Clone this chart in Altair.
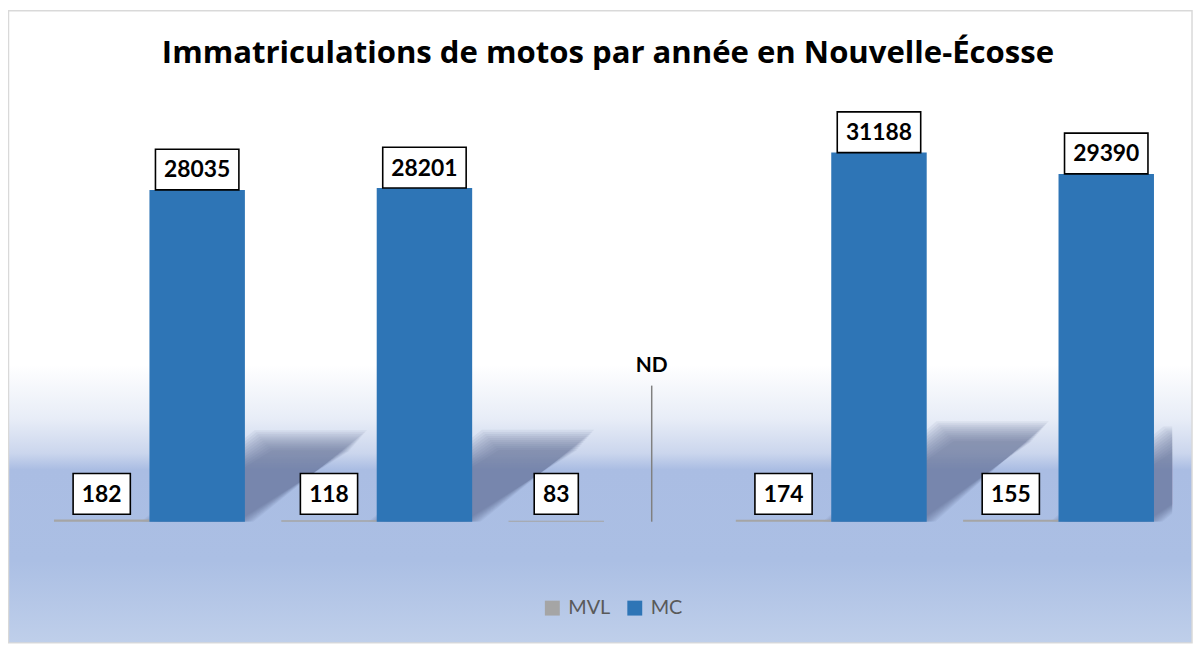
import altair as alt
import pandas as pd

years = ["2017", "2018", "2019", "2020", "2021"]
series_names = ["MVL", "MC"]
mvl_values = [182, 118, 83, 174, 155]
mc_values = [28035, 28201, None, 31188, 29390]
nd_year = "2019"
nd_series = "MC"
nd_text = "ND"
title_text = "Immatriculations de motos par année en Nouvelle-Écosse"

colors = ["#A5A5A5", "#2E75B6"]

rows = []
for i, y in enumerate(years):
    rows.append({"year": y, "idx": i, "series": "MVL", "value": mvl_values[i]})
    rows.append({"year": y, "idx": i, "series": "MC", "value": mc_values[i]})
df = pd.DataFrame(rows)
nd_df = pd.DataFrame([{"year": nd_year, "series": nd_series, "label": nd_text}])
bg_df = pd.DataFrame([{"k": 0}])

W, H = 1144, 417
YMAX = 35000
PX = YMAX / H  # data units per pixel

xband = alt.Scale(domain=years, paddingInner=0.16, paddingOuter=0.08)
xoff = alt.Scale(domain=series_names)
yscale = alt.Scale(domain=[0, YMAX], nice=False)

bg = alt.Chart(bg_df).mark_rect(
    fill=alt.Gradient(
        gradient="linear", x1=0, x2=0, y1=0, y2=1,
        stops=[
            alt.GradientStop(offset=0, color="#ffffff"),
            alt.GradientStop(offset=0.56, color="#ffffff"),
            alt.GradientStop(offset=0.645, color="#e8edf7"),
            alt.GradientStop(offset=0.70, color="#cbd6ed"),
            alt.GradientStop(offset=0.726, color="#aabde3"),
            alt.GradientStop(offset=0.87, color="#abbfe4"),
            alt.GradientStop(offset=1.0, color="#bfcfea"),
        ],
    ),
    stroke="#d9d9d9", strokeWidth=1.5,
).encode(
    x=alt.value(-27.5), x2=alt.value(W + 20), y=alt.value(-97.5), y2=alt.value(539)
)

BW, SD, SH = 0.42, 0.5, 0.245
shadow = alt.Chart(df).transform_filter(
    "datum.series == 'MC' && isValid(datum.value)"
).transform_calculate(
    k="[0,1,2,3]", s="[0,1,2,3,4,5,6,7,8,9,10]"
).transform_flatten(["k"]).transform_flatten(["s"]).transform_calculate(
    e="(datum.s - 5) * 0.0075",
    h=f"{SH} * datum.value + (datum.s - 5) * 170",
).transform_calculate(
    a="datum.idx + 0.5 - datum.e",
    w=f"{BW} + 2 * datum.e",
).transform_calculate(
    sx=f"datum.a + (datum.k == 0 ? 0 : datum.k == 1 ? datum.w : datum.k == 2 ? {SD} : datum.w + {SD})",
    lo=f"datum.k < 2 ? 0 : datum.k == 2 ? datum.h * ({SD} - datum.w) / {SD} : datum.h",
    hi=f"datum.k == 0 ? 0 : datum.k == 1 ? datum.h * datum.w / {SD} : datum.h",
).mark_area(
    orient="vertical", color="#5c6a88", fillOpacity=0.08, clip=True,
).encode(
    x=alt.X("sx:Q", scale=alt.Scale(domain=[0, 5], nice=False, zero=False), axis=None),
    y=alt.Y("lo:Q", scale=yscale, axis=None),
    y2="hi:Q",
    detail=["year:N", "s:N"],
)

bars = alt.Chart(df).mark_bar().encode(
    x=alt.X("year:N", scale=xband, title=None,
            axis=alt.Axis(labelAngle=0, domain=False, ticks=False, tickSize=0,
                          labelFont="Lato", labelFontSize=20, labelFontWeight="bold",
                          labelColor="#595959", labelPadding=41, labelBaseline="alphabetic")),
    xOffset=alt.XOffset("series:N", scale=xoff),
    y=alt.Y("value:Q", scale=yscale, axis=None),
    color=alt.Color("series:N", scale=alt.Scale(domain=series_names, range=colors),
                    legend=alt.Legend(title=None, orient="none", legendX=510, legendY=494,
                                      direction="horizontal", symbolType="square",
                                      symbolSize=225, symbolStrokeWidth=0,
                                      labelFont="Lato", labelFontSize=20, labelColor="#595959",
                                      labelOffset=6, columnPadding=14)),
)

rule = alt.Chart(nd_df).transform_calculate(
    y0="0", y1=f"{137 * PX}"
).mark_rule(color="#808080", strokeWidth=1.5).encode(
    x=alt.X("year:N", scale=xband, axis=None),
    xOffset=alt.XOffset("series:N", scale=xoff),
    y=alt.Y("y0:Q", scale=yscale, axis=None),
    y2="y1:Q",
)

nd_label = alt.Chart(nd_df).transform_calculate(
    ty=f"{157 * PX}"
).mark_text(font="Lato", fontSize=21, fontWeight="bold", color="#000000", baseline="middle").encode(
    x=alt.X("year:N", scale=xband, axis=None),
    xOffset=alt.XOffset("series:N", scale=xoff),
    y=alt.Y("ty:Q", scale=yscale, axis=None),
    text="label:N",
)

labeled = alt.Chart(df).transform_filter("isValid(datum.value)").transform_calculate(
    label="format(datum.value, 'd')",
).transform_calculate(
    bw="18 + 13.2 * length(datum.label)",
    b0=f"datum.value + (datum.series == 'MVL' ? {7.5 * PX} - datum.value : 0)",
).transform_calculate(
    b1=f"datum.b0 + {41 * PX}",
    tc=f"datum.b0 + {20.5 * PX}",
)

boxes = labeled.mark_bar(fill="#ffffff", stroke="#000000", strokeWidth=1.6).encode(
    x=alt.X("year:N", scale=xband, axis=None),
    xOffset=alt.XOffset("series:N", scale=xoff),
    y=alt.Y("b0:Q", scale=yscale, axis=None),
    y2="b1:Q",
    size=alt.Size("bw:Q", scale=None, legend=None),
)

texts = labeled.mark_text(font="Lato", fontSize=23, fontWeight="bold", color="#000000",
                          baseline="middle", dy=1).encode(
    x=alt.X("year:N", scale=xband, axis=None),
    xOffset=alt.XOffset("series:N", scale=xoff),
    y=alt.Y("tc:Q", scale=yscale, axis=None),
    text="label:N",
)

chart = alt.layer(bg, shadow, bars, rule, boxes, texts, nd_label).resolve_scale(
    x="independent"
).properties(
    width=W, height=H,
    padding={"left": 28, "top": 98, "right": 23, "bottom": 125},
    autosize=alt.AutoSizeParams(type="none"),
    title=alt.TitleParams(text=title_text, font="Open Sans", fontSize=31.3, fontWeight="bold",
                          color="#000000", anchor="middle", baseline="alphabetic",
                          offset=-85, dx=4),
).configure_view(stroke=None).configure(background="#ffffff")

chart.save("out.html", embed_options={"renderer": "svg", "actions": False})
